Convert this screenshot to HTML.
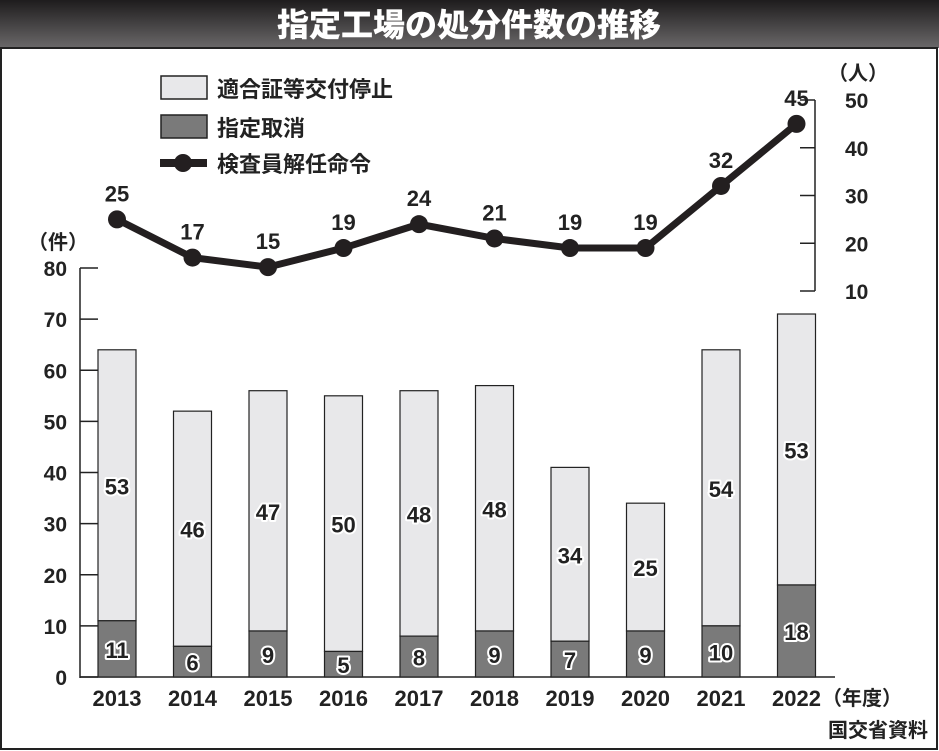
<!DOCTYPE html>
<html><head><meta charset="utf-8"><style>
html,body{margin:0;padding:0;background:#fff;}
svg{display:block;font-family:"Liberation Sans","Noto Sans CJK JP",sans-serif;font-weight:bold;}
</style></head><body>
<svg id="c" width="939" height="751" viewBox="0 0 939 751" xmlns="http://www.w3.org/2000/svg">
<defs><linearGradient id="tg" x1="0" y1="0" x2="0" y2="1"><stop offset="0" stop-color="#1e1c1d"/><stop offset="1" stop-color="#6a6869"/></linearGradient></defs>
<rect x="0" y="0" width="939" height="48" fill="url(#tg)"/>
<text x="469" y="36" text-anchor="middle" font-size="32" fill="#fff" font-family="'Noto Sans CJK JP',sans-serif" font-weight="900">指定工場の処分件数の推移</text>
<rect x="1" y="48" width="936" height="701" fill="none" stroke="#222" stroke-width="2"/>
<g>
<rect x="161" y="76" width="46" height="23" fill="#e8e8ea" stroke="#222" stroke-width="1.5"/>
<text x="217" y="97" font-size="22" fill="#222">適合証等交付停止</text>
<rect x="161" y="115" width="46" height="23" fill="#7a7a7a" stroke="#222" stroke-width="1.5"/>
<text x="217" y="136" font-size="22" fill="#222">指定取消</text>
<line x1="160" y1="163" x2="207" y2="163" stroke="#231f20" stroke-width="8"/>
<circle cx="183" cy="163" r="9" fill="#231f20"/>
<text x="217" y="172" font-size="22" fill="#222">検査員解任命令</text>
</g>
<g id="g"></g>
</svg>
<script>
const years=["2013","2014","2015","2016","2017","2018","2019","2020","2021","2022"];
const suspension=[53,46,47,50,48,48,34,25,54,53];
const revocation=[11,6,9,5,8,9,7,9,10,18];
const inspector=[25,17,15,19,24,21,19,19,32,45];
const leftTicks=[0,10,20,30,40,50,60,70,80];
const rightTicks=[10,20,30,40,50];
const NS="http://www.w3.org/2000/svg";
const g=document.getElementById('g');
function yL(v){return 677-v*(677-268)/80;}
function yR(v){return 291-(v-10)*(291-100)/40;}
function xC(i){return 117+i*75.5;}
function mk(t,a,p){const e=document.createElementNS(NS,t);for(const k in a)e.setAttribute(k,a[k]);(p||g).appendChild(e);return e;}
// left axis
let e=mk('line',{x1:80,y1:268,x2:80,y2:678,stroke:'#222','stroke-width':1.5});


leftTicks.forEach(v=>{
 let t=mk('line',{x1:80,y1:yL(v),x2:98,y2:yL(v),stroke:'#222','stroke-width':1.5});
 
 
 let l=mk('text',{x:67,y:yL(v)+8,'text-anchor':'end','font-size':21,fill:'#222'});l.textContent=v;
 
 
});
e=mk('text',{x:58,y:249,'text-anchor':'middle','font-size':20,fill:'#222'});e.textContent='（件）';


// baseline
e=mk('line',{x1:80,y1:677,x2:835,y2:677,stroke:'#222','stroke-width':1.5});


// bars
years.forEach((y,i)=>{
 const x=xC(i)-19,w=38;
 const yr=yL(revocation[i]),ys=yL(revocation[i]+suspension[i]);
 let r=mk('rect',{x:x,y:ys,width:w,height:yr-ys,fill:'#e8e8ea',stroke:'#222','stroke-width':1.2});
 
 
 r=mk('rect',{x:x,y:yr,width:w,height:677-yr,fill:'#7a7a7a',stroke:'#222','stroke-width':1.2});
 
 
 let t=mk('text',{x:xC(i),y:(ys+yr)/2+9,'text-anchor':'middle','font-size':22,fill:'#222',stroke:'#fff','stroke-width':4,'paint-order':'stroke','stroke-linejoin':'round'});t.textContent=suspension[i];
 
 
 t=mk('text',{x:xC(i),y:(yr+677)/2+9,'text-anchor':'middle','font-size':22,fill:'#222',stroke:'#fff','stroke-width':4,'paint-order':'stroke','stroke-linejoin':'round'});t.textContent=revocation[i];
 
 
 t=mk('text',{x:xC(i),y:706,'text-anchor':'middle','font-size':22,fill:'#222'});t.textContent=y;
 
 
});
e=mk('text',{x:822,y:705,'text-anchor':'start','font-size':20,fill:'#222'});e.textContent='（年度）';


e=mk('text',{x:928,y:737,'text-anchor':'end','font-size':20,fill:'#222'});e.textContent='国交省資料';


// right axis
e=mk('line',{x1:815,y1:100,x2:815,y2:291,stroke:'#222','stroke-width':1.5});


rightTicks.forEach(v=>{
 let t=mk('line',{x1:800,y1:yR(v),x2:815,y2:yR(v),stroke:'#222','stroke-width':1.5});
 
 
 let l=mk('text',{x:845,y:yR(v)+8,'text-anchor':'start','font-size':21,fill:'#222'});l.textContent=v;
 
 
});
e=mk('text',{x:858,y:80,'text-anchor':'middle','font-size':20,fill:'#222'});e.textContent='（人）';


// line
const pts=inspector.map((v,i)=>xC(i)+','+yR(v)).join(' ');
e=mk('polyline',{points:pts,fill:'none',stroke:'#231f20','stroke-width':7,'stroke-linejoin':'miter'});


inspector.forEach((v,i)=>{
 let c=mk('circle',{cx:xC(i),cy:yR(v),r:9,fill:'#231f20'});
 
 
 let t=mk('text',{x:xC(i),y:yR(v)-18,'text-anchor':'middle','font-size':22,fill:'#222'});t.textContent=v;
 
 
});
</script>
</body></html>
